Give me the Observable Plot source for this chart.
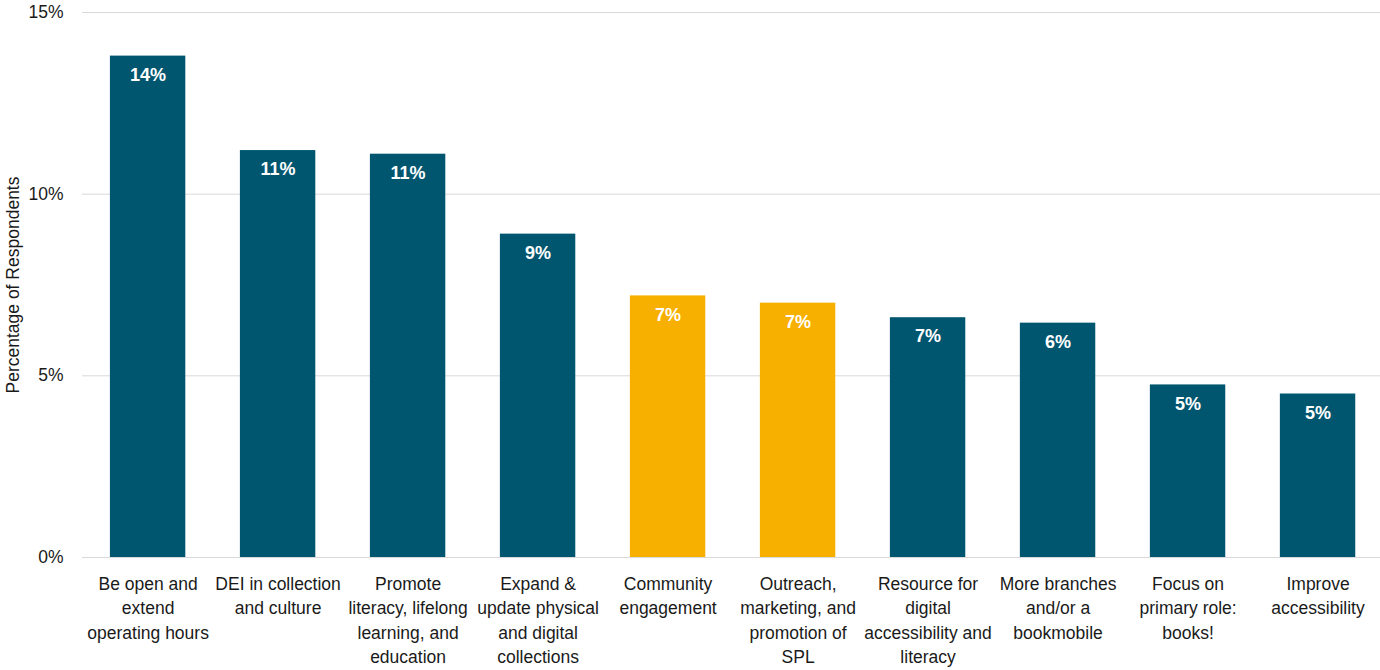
<!DOCTYPE html>
<html>
<head>
<meta charset="utf-8">
<script src="https://cdn.jsdelivr.net/npm/d3@7"></script>
<script src="https://cdn.jsdelivr.net/npm/@observablehq/plot@0.6"></script>
<style>
  html, body { margin: 0; padding: 0; background: #fff; }
</style>
</head>
<body>
<div id="chart"></div>
<script>
const categories = [
  "Be open and\nextend\noperating hours",
  "DEI in collection\nand culture",
  "Promote\nliteracy, lifelong\nlearning, and\neducation",
  "Expand &\nupdate physical\nand digital\ncollections",
  "Community\nengagement",
  "Outreach,\nmarketing, and\npromotion of\nSPL",
  "Resource for\ndigital\naccessibility and\nliteracy",
  "More branches\nand/or a\nbookmobile",
  "Focus on\nprimary role:\nbooks!",
  "Improve\naccessibility"
];
const values = [13.8, 11.2, 11.1, 8.9, 7.2, 7.0, 6.6, 6.45, 4.75, 4.5];
const highlighted = [false, false, false, false, true, true, false, false, false, false];
const yTicks = [0, 5, 10, 15];

const data = categories.map((c, i) => ({
  category: c,
  value: values[i],
  group: highlighted[i] ? "highlight" : "base",
  label: Math.round(values[i]) + "%"
}));

const chart = Plot.plot({
  width: 1380,
  height: 670,
  marginLeft: 82,
  marginRight: 0,
  marginTop: 12,
  marginBottom: 113,
  style: { fontFamily: "'Liberation Sans', Arial, sans-serif", fontSize: "17.5px", color: "#1a1a1a", background: "#fff" },
  x: { domain: categories, paddingInner: 0.42, paddingOuter: 0.2025, align: 0.53, round: false, label: null },
  y: { domain: [0, 15], label: null },
  color: { domain: ["base", "highlight"], range: ["#01566F", "#F7B000"] },
  marks: [
    Plot.ruleY(yTicks, { stroke: "#d9d9d9", strokeWidth: 1 }),
    Plot.barY(data, { x: "category", y: "value", fill: "group" }),
    Plot.text(data, { x: "category", y: "value", text: "label", fill: "white", fontWeight: "bold", fontSize: 18, dy: 19 }),
    Plot.axisY(yTicks, {
      tickSize: 0, tickPadding: 19, tickFormat: d => d + "%", fontSize: 17.5,
      label: "Percentage of Respondents", labelAnchor: "center", labelArrow: "none", labelOffset: 76
    }),
    Plot.axisX({ tickSize: 0, tickPadding: 15, fontSize: 17.5, lineHeight: 1.4, label: null })
  ]
});

document.getElementById("chart").appendChild(chart);
</script>
</body>
</html>
